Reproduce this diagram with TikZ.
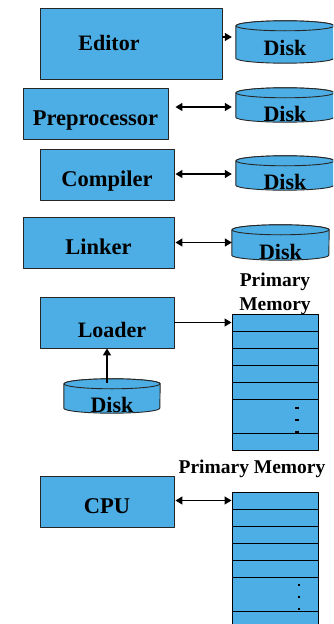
\documentclass[tikz,border=0pt]{standalone}
\usepackage{fontspec}
\setmainfont{Liberation Serif}
\usetikzlibrary{arrows.meta}
\definecolor{boxblue}{RGB}{76,174,228}

% drum: name, centre, width, height, raise of the label above the bottom
\newcommand{\drum}[5]{%
  \node[inner sep=0pt, minimum width=#3, minimum height=#4] (#1) at (#2) {};
  \filldraw[drumline] ([yshift=-5pt]#1.north west) -- ([yshift=5pt]#1.south west)
    arc[start angle=180, end angle=360, x radius=#3/2, y radius=5pt]
    -- ([yshift=-5pt]#1.north east)
    arc[start angle=0, end angle=180, x radius=#3/2, y radius=5pt] -- cycle;
  \draw[drumline] ([yshift=-5pt]#1.north) ellipse[x radius=#3/2, y radius=5pt];
  \node[lbl, anchor=base] (#1t) at ([yshift=#5]#1.south) {Disk};
}

\begin{document}
\begin{tikzpicture}[x=1pt, y=-1pt, line join=round,
  box/.style={rectangle, draw=black!85, line width=0.9pt, fill=boxblue,
    font=\fontsize{22.5}{27}\selectfont\bfseries,
    text height=24pt, text depth=0pt, inner sep=0pt},
  drumline/.style={draw=black!85, line width=0.9pt, fill=boxblue},
  lbl/.style={font=\fontsize{22}{26}\selectfont\bfseries, inner sep=0pt},
  cell/.style={rectangle, draw=black, line width=1pt, fill=boxblue,
    minimum width=86pt, inner sep=0pt},
  arr/.style={-{Triangle[length=7pt,width=8pt]}, line width=1.3pt},
  both/.style={{Triangle[length=7pt,width=8pt]}-{Triangle[length=7pt,width=8pt]}, line width=1.3pt}
]
  \useasboundingbox (0,0) rectangle (333,624);
  \clip (0,0) rectangle (333,624);

  % programs
  \node[box, minimum width=182pt, minimum height=71pt,
    label={[lbl, anchor=base, xshift=-22pt, yshift=1pt]center:Editor}] (edit) at (131,43.5) {};
  \node[box, minimum width=145pt, minimum height=51pt] (pre)  at (95.5,113.5) {Preprocessor};
  \node[box, minimum width=134pt, minimum height=51pt] (comp) at (107,174.5) {Compiler};
  \node[box, minimum width=151pt, minimum height=51pt] (link) at (98.5,242.5) {Linker};
  \node[box, minimum width=134pt, minimum height=51pt,
    label={[lbl, anchor=base, xshift=5pt, yshift=-7pt]center:Loader}] (load) at (107,322.5) {};
  \node[box, minimum width=134pt, minimum height=51pt] (cpu)  at (107,501.5) {CPU};

  % disks
  \drum{d1}{285,42}{98pt}{42pt}{8pt}
  \drum{d2}{285,105}{98pt}{34pt}{1pt}
  \drum{d3}{285,173}{98pt}{34pt}{1pt}
  \drum{d4}{280.5,242.5}{97pt}{35pt}{1pt}
  \drum{d5}{112,396}{96pt}{34pt}{1pt}

  % primary memory stacks
  \foreach \m/\top in {ma/314, mb/492} {
    \foreach \i in {1,...,5}
      \node[cell, minimum height=17pt] (\m\i) at (275,\top+17*\i-8.5) {};
    \node[cell, minimum height=34pt] (\m6) at (275,\top+102) {};
    \node[cell, minimum height=17pt] (\m7) at (275,\top+127.5) {};
  }
  \foreach \y in {408,420,432}
    \fill (295,\y-0.8) rectangle (299,\y+0.8);
  \foreach \y in {585,597,609}
    \fill (298,\y-1) rectangle (300,\y+1);

  \node[lbl, font=\fontsize{19.5}{24}\selectfont\bfseries, align=center] (pmema) at (275,294) {Primary\\Memory};
  \node[lbl, font=\fontsize{19.5}{24}\selectfont\bfseries, anchor=base] (pmemb) at (252,473) {Primary Memory};

  % transfers
  \draw[arr] ([yshift=6.5pt]edit.east) -- ([xshift=-4pt, yshift=5pt]d1.west);
  \draw[both] (pre.east |- d2.west) ++(7,2) -- ([xshift=-4pt, yshift=-2pt]d2.west);
  \draw[both] (comp.east |- d3.west) ++(1,1) -- ([xshift=-4pt, yshift=-1pt]d3.west);
  \draw[both] (link.east |- d4.west) ++(1,0) -- (d4.west);
  \draw[arr] (load.east |- ma1.west) -- (ma1.west);
  \draw[arr] (load.south |- d5.north) ++(0,4) -- (load.south);
  \draw[both] (cpu.east |- mb1.west) ++(1,0) -- (mb1.west);
\end{tikzpicture}
\end{document}
